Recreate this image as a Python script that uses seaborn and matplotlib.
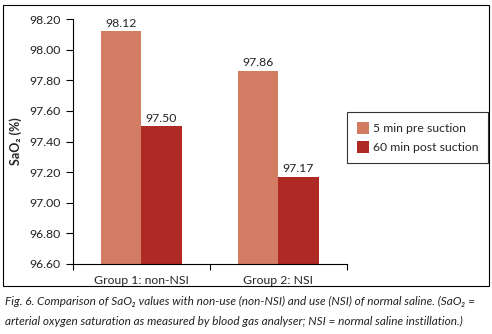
import pandas as pd
import matplotlib
matplotlib.use("Agg")
import matplotlib.pyplot as plt
import seaborn as sns
from matplotlib.patches import Rectangle

# datos del grafico
grupos = ['Group 1: non-NSI', 'Group 2: NSI']
momentos = ['5 min pre suction', '60 min post suction']
valores_pre = [98.12, 97.86]
valores_post = [97.50, 97.17]
ticks_y = [96.60, 96.80, 97.00, 97.20, 97.40, 97.60, 97.80, 98.00, 98.20]

df = pd.DataFrame({
    'grupo': grupos * 2,
    'momento': [momentos[0]] * 2 + [momentos[1]] * 2,
    'sao2': valores_pre + valores_post,
})

sns.set_style('white')
plt.rcParams['font.family'] = ['Lato', 'DejaVu Sans']

fig = plt.figure(figsize=(4.92, 3.34), dpi=100)
ax = fig.add_axes([0.148, 0.2096, 0.557, 0.733])

sns.barplot(data=df, x='grupo', y='sao2', hue='momento', hue_order=momentos,
            palette=['#D27C63', '#B02A25'], width=0.59, saturation=1,
            linewidth=0, ax=ax)

for cont in ax.containers:
    ax.bar_label(cont, fmt='%.2f', padding=2, fontsize=8.8, color='#222222')

ax.set_ylim(96.6, 98.2)
ax.set_xlim(-0.5, 1.5)
ax.set_yticks(ticks_y)
ax.set_yticklabels([f'{t:.2f}' for t in ticks_y], fontsize=8.8)
ax.set_xticks([0, 1])
ax.set_xticklabels(grupos, fontsize=8.8)
ax.set_xticks([-0.5, 0.5, 1.5], minor=True)
ax.tick_params(axis='x', which='major', length=0, pad=8)
ax.tick_params(axis='x', which='minor', length=4, width=0.8, direction='out', color='black', bottom=True)
ax.tick_params(axis='y', length=5, width=0.8, direction='out', color='black', left=True, pad=4, colors='#222222')
ax.set_xlabel('')
ax.set_ylabel('SaO₂ (%)', fontsize=9, fontweight='bold', labelpad=5)

for s in ['top', 'right']:
    ax.spines[s].set_visible(False)
for s in ['left', 'bottom']:
    ax.spines[s].set_color('black')
    ax.spines[s].set_linewidth(0.8)

leg = ax.legend(loc='upper left', bbox_to_anchor=(1.0, 0.62), borderaxespad=0,
                fontsize=8.8, frameon=True, fancybox=False, edgecolor='black',
                handlelength=1.0, handleheight=1.1, handletextpad=0.3,
                borderpad=0.8, labelspacing=0.6)
leg.get_frame().set_linewidth(0.8)

# marco exterior
fig.patches.append(Rectangle((3 / 492, 1 - 286 / 334), 486 / 492, 281 / 334,
                             transform=fig.transFigure, fill=False,
                             edgecolor='black', linewidth=0.8))

fig.text(0.010, 0.088,
         'Fig. 6. Comparison of SaO₂ values with non-use (non-NSI) and use (NSI) of normal saline. (SaO₂ =',
         fontsize=8.5, style='italic', color='#222222')
fig.text(0.010, 0.028,
         'arterial oxygen saturation as measured by blood gas analyser; NSI = normal saline instillation.)',
         fontsize=8.5, style='italic', color='#222222')

fig.savefig('out.png', dpi=100)
